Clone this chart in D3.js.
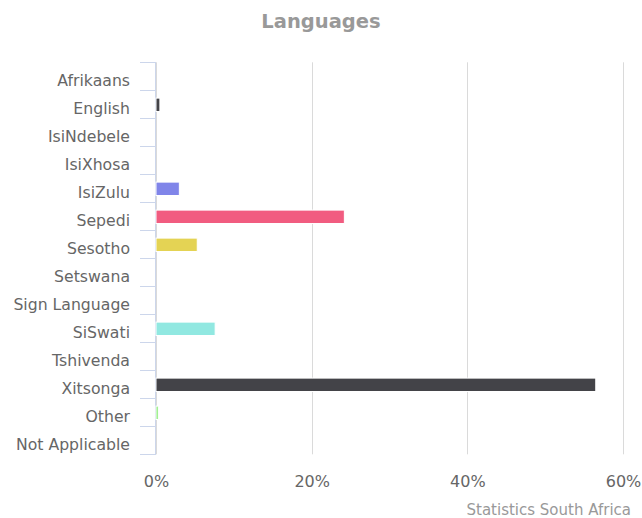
<!DOCTYPE html>
<html>
<head>
<meta charset="utf-8">
<script src="https://cdn.jsdelivr.net/npm/d3@7"></script>
<style>
  html, body { margin: 0; padding: 0; background: #ffffff; }
  svg { display: block; font-family: "DejaVu Sans", Verdana, sans-serif; }
</style>
</head>
<body>
<svg id="chart" width="642" height="518"></svg>
<script>
// Home language shares (% of population)
const categories = ["Afrikaans", "English", "IsiNdebele", "IsiXhosa", "IsiZulu", "Sepedi",
  "Sesotho", "Setswana", "Sign Language", "SiSwati", "Tshivenda", "Xitsonga", "Other", "Not Applicable"];
const values = [0, 0.5, 0, 0, 3.0, 24.2, 5.3, 0, 0, 7.6, 0, 56.5, 0.3, 0];
const palette = ["#7cb5ec", "#434348", "#90ed7d", "#f7a35c", "#8085e9", "#f15c80",
  "#e4d354", "#2b908f", "#f45b5b", "#91e8e1"];
const xTicks = [0, 20, 40, 60];
const titleText = "Languages";
const creditText = "Statistics South Africa";

const svg = d3.select("#chart");
const W = 642, H = 518;
const plot = { left: 156, right: 623, top: 62.3, bottom: 454.3 };

const x = d3.scaleLinear().domain([0, 60]).range([plot.left, plot.right]);
const y = d3.scaleBand().domain(categories).range([plot.top, plot.bottom]);

// Title
svg.append("text")
  .attr("x", W / 2).attr("y", 28)
  .attr("text-anchor", "middle")
  .attr("font-size", "19.5px").attr("font-weight", "bold")
  .attr("fill", "#999999")
  .text(titleText);

// Vertical grid lines
svg.append("g")
  .selectAll("line")
  .data(xTicks)
  .join("line")
  .attr("x1", d => Math.round(x(d)) + 0.5).attr("x2", d => Math.round(x(d)) + 0.5)
  .attr("y1", plot.top).attr("y2", plot.bottom)
  .attr("stroke", "#dadada").attr("stroke-width", 1);

// Value axis labels
const xAxis = d3.axisBottom(x).tickValues(xTicks).tickFormat(d => d + "%").tickSize(0).tickPadding(0);
const gx = svg.append("g").attr("transform", `translate(0, ${plot.bottom + 33})`).call(xAxis);
gx.select(".domain").remove();
gx.selectAll("text")
  .attr("dy", 0)
  .attr("font-size", "16px")
  .attr("font-family", "\"DejaVu Sans\", Verdana, sans-serif")
  .attr("fill", "#666666");

// Category axis with ticks on band edges
const catAxis = svg.append("g");
catAxis.append("line")
  .attr("x1", plot.left - 0.5).attr("x2", plot.left - 0.5)
  .attr("y1", plot.top).attr("y2", plot.bottom)
  .attr("stroke", "#ccd6eb");
const edges = categories.map(c => y(c)).concat([plot.bottom]);
catAxis.selectAll("line.tick")
  .data(edges)
  .join("line")
  .attr("class", "tick")
  .attr("x1", plot.left - 16).attr("x2", plot.left)
  .attr("y1", d => Math.round(d) + 0.5).attr("y2", d => Math.round(d) + 0.5)
  .attr("stroke", "#ccd6eb");
catAxis.selectAll("text")
  .data(categories)
  .join("text")
  .attr("x", plot.left - 26)
  .attr("y", d => y(d) + y.bandwidth() / 2 + 9.5)
  .attr("text-anchor", "end")
  .attr("font-size", "15.7px")
  .attr("fill", "#666666")
  .text(d => d);

// Bars
const barH = 13.4;
svg.append("g")
  .selectAll("rect")
  .data(categories.map((c, i) => ({ c, v: values[i], i })))
  .join("rect")
  .attr("x", x(0))
  .attr("y", d => y(d.c) + y.bandwidth() / 2 - barH / 2 + 0.5)
  .attr("width", d => Math.max(0, x(d.v) - x(0)))
  .attr("height", barH)
  .attr("fill", d => palette[d.i % palette.length])
  .attr("stroke", d => d.v > 0 ? "#ffffff" : "none")
  .attr("stroke-width", 1);

// Credit
svg.append("text")
  .attr("x", 631).attr("y", 515)
  .attr("text-anchor", "end")
  .attr("font-size", "15px")
  .attr("fill", "#999999")
  .text(creditText);
</script>
</body>
</html>
